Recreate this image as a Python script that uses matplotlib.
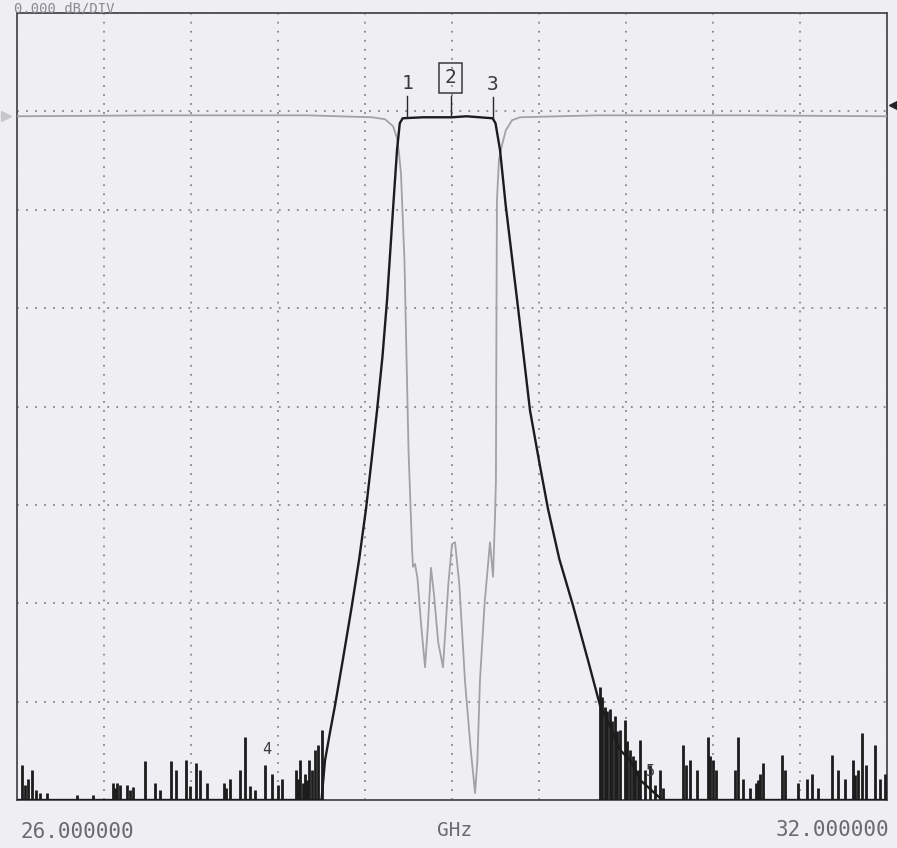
import matplotlib
matplotlib.use("Agg")
import matplotlib.pyplot as plt

# ---------------- data (GHz, dB) ----------------
f_start, f_stop = 26.0, 32.0
db_top, db_bottom = 10.0, -70.0

# S21 (transmission, dark trace)
s21_f = [26.00, 28.10, 28.124, 28.16, 28.193, 28.25, 28.310, 28.36, 28.407, 28.445,
         28.483, 28.52, 28.552, 28.593, 28.621, 28.64, 28.66, 28.80, 29.00, 29.10,
         29.28, 29.30, 29.331, 29.37, 29.455, 29.538, 29.60, 29.662, 29.74,
         29.834, 29.938, 30.021, 30.09, 30.159, 30.23, 30.30, 30.45, 32.00]
s21_db = [-70.0, -70.0, -66.0, -63.0, -60.4, -55.5, -50.2, -45.5, -40.4, -35.5,
          -30.4, -25.0, -19.2, -10.0, -3.9, -1.2, -0.7, -0.6, -0.6, -0.5,
          -0.7, -1.2, -3.9, -9.5, -19.9, -30.4, -35.5, -40.4, -45.5,
          -50.2, -55.8, -60.4, -62.5, -64.9, -66.0, -68.0, -70.0, -70.0]

# S21 noise-floor spikes (frequency, peak level)
spike_f = [26.034, 26.055, 26.076, 26.103, 26.131, 26.159, 26.207, 26.414, 26.524,
           26.662, 26.675, 26.690, 26.710, 26.759, 26.779, 26.800, 26.883, 26.952, 26.986,
           27.062, 27.097, 27.166, 27.193, 27.234, 27.262, 27.310, 27.428, 27.440, 27.469,
           27.538, 27.572, 27.607, 27.641, 27.710, 27.759, 27.800, 27.828, 27.924,
           27.938, 27.952, 27.970, 27.986, 28.000, 28.014, 28.034, 28.055, 28.076, 28.103,
           30.021, 30.035, 30.055, 30.070, 30.090, 30.105, 30.124, 30.140, 30.159, 30.193,
           30.210, 30.228, 30.245, 30.262, 30.280, 30.297, 30.331, 30.366, 30.400, 30.434,
           30.455, 30.593, 30.614, 30.641, 30.690, 30.766, 30.780, 30.800, 30.821, 30.952,
           30.972, 31.007, 31.055, 31.097, 31.110, 31.124, 31.145, 31.276, 31.297, 31.386,
           31.448, 31.483, 31.524, 31.621, 31.662, 31.710, 31.766, 31.780, 31.800, 31.828,
           31.855, 31.917, 31.952, 31.986]
spike_db = [-66.4, -68.5, -67.9, -66.9, -69.0, -69.3, -69.3, -69.5, -69.5,
            -68.3, -68.8, -68.3, -68.5, -68.5, -69.0, -68.7, -66.0, -68.3, -69.0,
            -66.0, -66.9, -65.9, -68.6, -66.2, -66.9, -68.3, -68.3, -68.8, -67.9,
            -66.9, -63.6, -68.6, -69.0, -66.4, -67.4, -68.5, -67.9, -66.9,
            -67.9, -65.9, -68.3, -67.4, -68.0, -65.9, -66.9, -64.9, -64.4, -62.9,
            -58.5, -59.5, -60.5, -61.0, -60.8, -62.0, -61.5, -63.0, -62.9, -61.9,
            -64.0, -64.9, -65.5, -65.9, -67.0, -63.9, -66.9, -66.4, -68.5, -66.9,
            -68.8, -64.4, -66.4, -65.9, -66.9, -63.6, -65.5, -65.9, -66.9, -66.9,
            -63.6, -67.9, -68.8, -68.3, -68.0, -67.4, -66.2, -65.4, -66.9, -68.3,
            -67.9, -67.4, -68.8, -65.4, -66.9, -67.9, -65.9, -67.5, -66.9, -63.2,
            -66.4, -64.4, -67.9, -67.4]

# S11 (reflection, grey trace)
s11_f = [26.00, 27.00, 28.00, 28.45, 28.538, 28.593, 28.621, 28.634, 28.648, 28.672,
         28.700, 28.724, 28.731, 28.745, 28.762, 28.786, 28.814, 28.835, 28.855, 28.875,
         28.905, 28.938, 28.975, 29.000, 29.021, 29.050, 29.090, 29.130, 29.159, 29.175,
         29.193, 29.225, 29.262, 29.283, 29.297, 29.303, 29.307, 29.310, 29.324, 29.345,
         29.372, 29.414, 29.469, 30.00, 31.00, 32.00]
s11_db = [-0.5, -0.4, -0.4, -0.6, -0.8, -1.5, -2.7, -4.2, -6.3, -15.1,
          -34.4, -44.3, -46.3, -46.0, -47.5, -52.0, -56.5, -52.0, -46.4, -49.0,
          -54.0, -56.5, -48.0, -44.0, -43.8, -48.0, -58.0, -65.0, -69.3, -66.0,
          -57.8, -50.0, -43.8, -47.3, -41.0, -37.5, -19.2, -9.0, -4.9, -3.4,
          -1.9, -0.9, -0.6, -0.4, -0.4, -0.5]

# markers
marker_labels = ["1", "2", "3"]
marker_f = [28.69, 28.99, 29.28]
marker_db = [-0.6, -0.6, -0.7]
low_marker_labels = ["4", "5"]
low_marker_f = [27.72, 30.37]
low_marker_db = [-66.4, -68.6]

header_text = "0.000 dB/DIV"
start_label = "26.000000"
stop_label = "32.000000"
unit_label = "GHz"

# ---------------- figure ----------------
paper = "#eeeef3"
fig = plt.figure(figsize=(8.97, 8.48), dpi=100, facecolor=paper)
ax = fig.add_axes([17/897, 1-800/848, 870/897, 787/848])
ax.set_facecolor(paper)
ax.set_xlim(f_start, f_stop)
ax.set_ylim(db_bottom, db_top)

xt = [f_start + i*(f_stop-f_start)/10 for i in range(11)]
yt = [db_bottom + i*10 for i in range(9)]
ax.set_xticks(xt)
ax.set_yticks(yt)
ax.tick_params(length=0, labelbottom=False, labelleft=False)
ax.grid(True, color="#85858c", linestyle=(0, (1, 4)), linewidth=1.3)
for s in ax.spines.values():
    s.set_color("#4a4a4e")
    s.set_linewidth(1.3)

ax.plot(s11_f, s11_db, color="#a2a2a6", lw=1.3, zorder=3)
ax.vlines(spike_f, db_bottom, spike_db, color="#1c1c1c", lw=2.0, zorder=4)
ax.plot(s21_f, s21_db, color="#1c1c1c", lw=1.7, zorder=5)

mono = "DejaVu Sans Mono"
for lab, f, d in zip(marker_labels, marker_f, marker_db):
    ax.plot([f, f], [d, d + 2.2], color="#2a2a2a", lw=1.0, zorder=6)
    kw = dict(fontsize=14, family=mono, color="#3a3a3a", ha="center", va="center", zorder=7)
    if lab == "2":
        kw["bbox"] = dict(boxstyle="square,pad=0.3", fc="none", ec="#3a3a3a", lw=1.1)
        ax.text(f, d + 4.0, lab, **kw)
    else:
        ax.text(f, d + 3.4, lab, **kw)

for lab, f, d in zip(low_marker_labels, low_marker_f, low_marker_db):
    ax.text(f, d + 1.5, lab, fontsize=11, family=mono, color="#3a3a3a",
            ha="center", va="center", zorder=7)

# reference level arrows
ax.plot([f_stop + 0.045], [0.6], marker="<", markersize=7, color="#222222",
        clip_on=False, zorder=8)
ax.plot([f_start - 0.075], [-0.5], marker=">", markersize=7, color="#c8c8cc",
        clip_on=False, zorder=8)

# texts
fig.text(14/897, 1-1/848, header_text, family=mono, fontsize=10, color="#8a8a90",
         ha="left", va="top")
fig.text(20/897, 1-832/848, start_label, family=mono, fontsize=15, color="#6a6a70",
         ha="left", va="center")
fig.text(455/897, 1-830/848, unit_label, family=mono, fontsize=14, color="#6a6a70",
         ha="center", va="center")
fig.text(889/897, 1-830/848, stop_label, family=mono, fontsize=15, color="#6a6a70",
         ha="right", va="center")

fig.savefig("out.png", dpi=100, facecolor=paper)
